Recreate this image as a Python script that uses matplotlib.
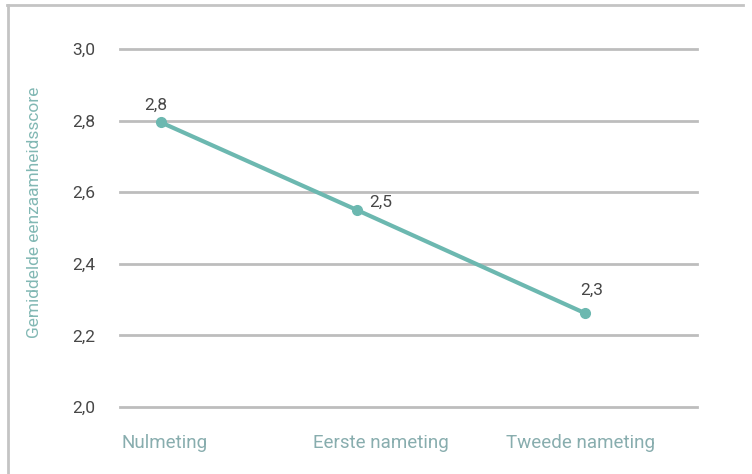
import matplotlib.pyplot as plt
from matplotlib.lines import Line2D

# data
categories = ['Nulmeting', 'Eerste nameting', 'Tweede nameting']
x_points = [0.071, 0.411, 0.806]
scores = [2.795, 2.55, 2.262]
score_labels = ['2,8', '2,5', '2,3']
yticks = [2.0, 2.2, 2.4, 2.6, 2.8, 3.0]
ytick_labels = ['2,0', '2,2', '2,4', '2,6', '2,8', '3,0']

teal = '#6cb8b0'
cat_color = '#88adae'
grid_color = '#bdbdbd'
num_color = '#474747'

plt.rcParams['font.family'] = ['Roboto', 'DejaVu Sans']

fig = plt.figure(figsize=(7.52, 4.74), dpi=100)
ax = fig.add_axes([120 / 752, 1 - 407 / 474, 577 / 752, 358 / 474])

ax.set_xlim(0, 1)
ax.set_ylim(2.0, 3.0)
for y in yticks:
    ax.axhline(y, color=grid_color, lw=2, zorder=1, clip_on=False)

ax.plot(x_points, scores, color=teal, lw=3, marker='o', ms=7, zorder=3,
        solid_capstyle='round')

# waardelabels
offsets = [(-4, 7), (17, 0), (5, 11)]
for x, y, lab, off in zip(x_points, scores, score_labels, offsets):
    ax.annotate(lab, (x, y), xytext=off, textcoords='offset points',
                ha='center', va='bottom', fontsize=12.5, color=num_color)

ax.set_yticks(yticks)
ax.set_yticklabels(ytick_labels, fontsize=12.5, color=num_color)
ax.tick_params(axis='y', length=0, pad=18)
ax.set_xticks([])
for s in ax.spines.values():
    s.set_visible(False)

# categorie labels links uitgelijnd per band
for i, cat in enumerate(categories):
    ax.text(i / 3 + 0.002, -0.1, cat, transform=ax.transAxes, ha='left', va='center',
            fontsize=13.5, color=cat_color)

fig.text(35 / 752, 1 - 212 / 474, 'Gemiddelde eenzaamheidsscore', rotation=90,
         ha='center', va='center', fontsize=12.5, color='#82b8b4')

# kader links en boven
fig.add_artist(Line2D([7.5 / 752, 7.5 / 752], [0, 1 - 4.5 / 474], color='#c4c4c4', lw=2,
                      transform=fig.transFigure))
fig.add_artist(Line2D([6.5 / 752, 743 / 752], [1 - 4.5 / 474, 1 - 4.5 / 474], color='#c4c4c4',
                      lw=2, transform=fig.transFigure))

fig.savefig('out.png', dpi=100)
